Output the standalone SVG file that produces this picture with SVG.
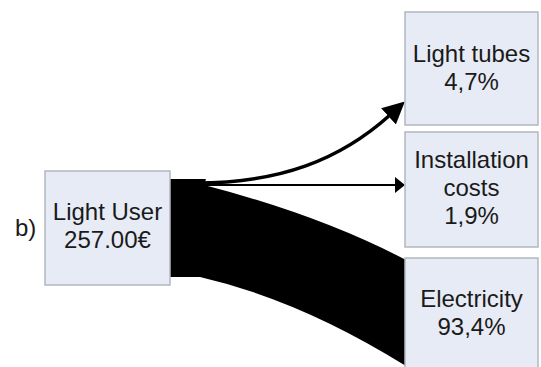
<svg xmlns="http://www.w3.org/2000/svg" width="541" height="367" viewBox="0 0 541 367">
<style>
.box{fill:#e7ebf5;stroke:#b3b7bf;stroke-width:1.5}
.t{font-family:"Liberation Sans",Arial,sans-serif;font-size:24px;fill:#1a1a1a;text-anchor:middle}
</style>
<defs>
<marker id="bigHead" markerUnits="userSpaceOnUse" markerWidth="24" markerHeight="24" refX="2" refY="11" orient="auto" viewBox="0 0 24 22">
<path d="M0 0 L22 11 L0 22 Z" fill="#000"/>
</marker>
<marker id="smallHead" markerUnits="userSpaceOnUse" markerWidth="12" markerHeight="16" refX="1" refY="8" orient="auto" viewBox="0 0 11 16">
<path d="M0 0 L10 8 L0 16 Z" fill="#000"/>
</marker>
</defs>
<rect width="541" height="367" fill="#fff"/>
<text x="15" y="236" font-family="Liberation Sans, Arial, sans-serif" font-size="24" fill="#1a1a1a">b)</text>
<g id="connectors">
<path id="flow-electricity" d="M170 179 L206 179 L204 185 Q320 215 406 260 L406 366 Q300 300 200 277 L170 277 Z" fill="#000"/>
<path id="flow-installation" d="M200 185 L396 185" stroke="#000" stroke-width="2" fill="none" marker-end="url(#smallHead)"/>
<path id="flow-tubes" d="M196 183 C280 183 340 160 390 115" stroke="#000" stroke-width="3.5" fill="none" marker-end="url(#bigHead)"/>
</g>
<g id="node-light-user">
<rect class="box" x="45" y="171" width="125" height="114"/>
<text class="t" x="107.5" y="220">Light User</text>
<text class="t" x="107.5" y="248">257.00€</text>
</g>
<g id="node-light-tubes">
<rect class="box" x="405" y="12" width="133" height="113"/>
<text class="t" x="471.5" y="62">Light tubes</text>
<text class="t" x="471.5" y="90">4,7%</text>
</g>
<g id="node-installation">
<rect class="box" x="405" y="132" width="133" height="115"/>
<text class="t" x="471.5" y="168">Installation</text>
<text class="t" x="471.5" y="196">costs</text>
<text class="t" x="471.5" y="224">1,9%</text>
</g>
<g id="node-electricity">
<rect class="box" x="405" y="258" width="133" height="112"/>
<text class="t" x="471.5" y="307">Electricity</text>
<text class="t" x="471.5" y="335">93,4%</text>
</g>
</svg>
